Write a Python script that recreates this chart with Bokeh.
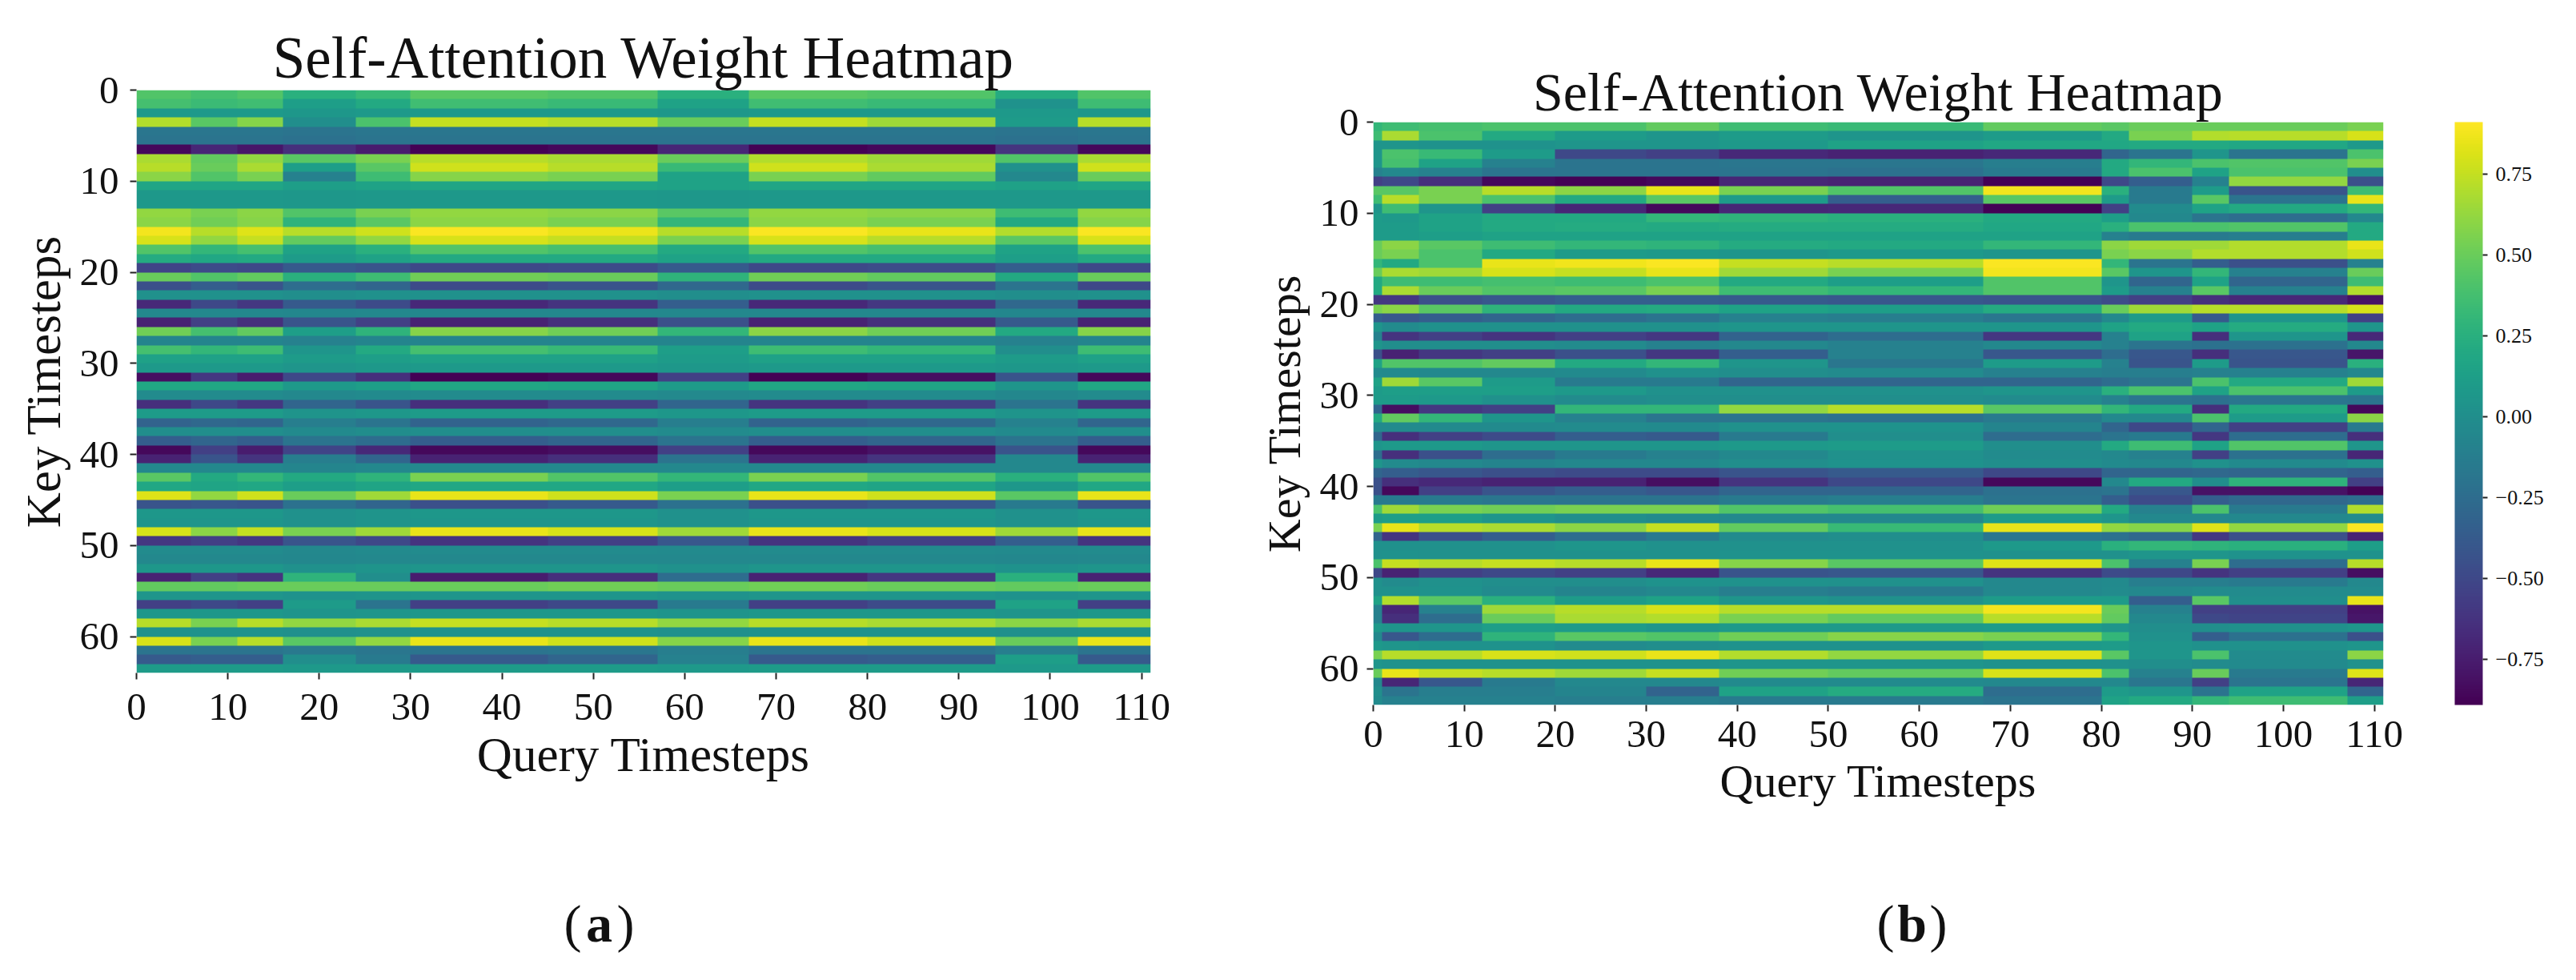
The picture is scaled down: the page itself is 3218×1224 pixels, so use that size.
import numpy as np
from bokeh.core.properties import value
from bokeh.embed import file_html
from bokeh.layouts import column, row
from bokeh.models import ColorBar, FixedTicker, LinearColorMapper, Range1d, Spacer
from bokeh.palettes import Viridis256
from bokeh.plotting import figure
from bokeh.resources import INLINE

TITLE = "Self-Attention Weight Heatmap"
X_LABEL = "Query Timesteps"
Y_LABEL = "Key Timesteps"
X_TICKS = list(range(0, 111, 10))
Y_TICKS = list(range(0, 61, 10))
CB_TICKS = [-0.75, -0.5, -0.25, 0.0, 0.25, 0.5, 0.75]
SERIF = "Liberation Serif"

# Column edges of the runs of similar colour
edges_a = [0, 6, 11, 16, 24, 30, 45, 57, 67, 80, 94, 103, 111]
rows_a = [
    [.42,.38,.42,.25,.32,.45,.42,.25,.45,.42,.22,.42],
    [.38,.34,.36,.12,.20,.36,.33,.15,.36,.33,.03,.35],
    [.08,.08,.08,.06,.08,.08,.08,.06,.08,.08,.08,.06],
    [.70,.45,.58,.00,.40,.75,.72,.50,.75,.65,.10,.72],
    [-.18,-.18,-.18,-.20,-.18,-.18,-.18,-.18,-.18,-.18,-.20,-.18],
    [-.20,-.20,-.20,-.22,-.20,-.20,-.20,-.20,-.20,-.20,-.22,-.20],
    [-.85,-.70,-.78,-.65,-.75,-.88,-.85,-.70,-.88,-.85,-.62,-.85],
    [.68,.48,.62,.45,.55,.72,.68,.50,.70,.65,.42,.68],
    [.72,.50,.68,.12,.45,.78,.72,.32,.78,.68,.02,.78],
    [.60,.42,.55,-.10,.35,.58,.55,.15,.55,.48,-.05,.50],
    [.17,.17,.17,.12,.15,.17,.17,.15,.17,.17,.14,.17],
    [.07,.07,.07,.06,.07,.07,.07,.06,.07,.07,.07,.07],
    [.07,.07,.07,.06,.07,.07,.07,.06,.07,.07,.07,.07],
    [.62,.55,.60,.42,.55,.62,.60,.45,.62,.60,.35,.62],
    [.60,.52,.58,.28,.45,.60,.55,.30,.60,.55,.20,.58],
    [.88,.72,.82,.72,.78,.90,.86,.72,.90,.85,.70,.90],
    [.80,.62,.75,.48,.62,.80,.75,.55,.80,.72,.45,.80],
    [.42,.30,.38,.15,.25,.42,.38,.20,.42,.38,.15,.40],
    [.22,.18,.20,.10,.15,.20,.20,.15,.20,.20,.12,.20],
    [-.52,-.48,-.50,-.38,-.42,-.50,-.48,-.38,-.50,-.47,-.35,-.50],
    [.50,.42,.48,.25,.35,.52,.50,.28,.52,.48,.20,.50],
    [-.45,-.35,-.42,-.25,-.30,-.48,-.42,-.28,-.48,-.42,-.20,-.50],
    [.02,.02,.02,.00,.02,.02,.02,.00,.02,.02,.00,.02],
    [-.68,-.50,-.60,-.38,-.48,-.68,-.62,-.35,-.68,-.60,-.28,-.68],
    [-.05,-.05,-.05,-.06,-.05,-.05,-.05,-.05,-.05,-.05,-.06,-.05],
    [-.72,-.55,-.65,-.42,-.55,-.72,-.65,-.45,-.72,-.65,-.38,-.72],
    [.52,.38,.48,.12,.28,.58,.52,.30,.60,.52,.20,.58],
    [-.08,-.08,-.08,-.10,-.08,-.08,-.08,-.08,-.08,-.08,-.10,-.08],
    [.38,.30,.35,.05,.20,.38,.32,.12,.35,.30,.00,.35],
    [.14,.14,.14,.10,.12,.14,.14,.10,.14,.14,.10,.14],
    [.08,.08,.08,.05,.07,.08,.08,.06,.08,.08,.06,.08],
    [-.82,-.60,-.75,-.50,-.65,-.88,-.85,-.55,-.88,-.82,-.42,-.85],
    [.18,.18,.18,.08,.12,.18,.17,.10,.18,.17,.05,.18],
    [-.02,-.02,-.02,-.05,-.03,-.02,-.02,-.04,-.02,-.02,-.06,-.02],
    [-.65,-.50,-.60,-.30,-.42,-.65,-.55,-.30,-.62,-.55,-.20,-.62],
    [.10,.10,.10,.04,.06,.10,.10,.06,.10,.10,.04,.10],
    [-.32,-.28,-.30,-.12,-.20,-.32,-.28,-.12,-.32,-.28,-.10,-.30],
    [.00,.00,.00,-.03,-.01,.00,.00,-.02,.00,.00,-.03,.00],
    [-.35,-.30,-.35,-.20,-.25,-.35,-.30,-.20,-.35,-.30,-.20,-.35],
    [-.85,-.55,-.75,-.52,-.68,-.85,-.82,-.55,-.85,-.80,-.42,-.85],
    [-.72,-.42,-.62,-.12,-.30,-.72,-.65,-.20,-.72,-.62,-.05,-.72],
    [-.05,-.05,-.05,-.07,-.05,-.05,-.05,-.05,-.05,-.05,-.05,-.05],
    [.45,.20,.30,.20,.28,.55,.42,.30,.55,.42,.25,.42],
    [.18,.16,.18,.12,.16,.18,.18,.12,.18,.16,.06,.18],
    [.82,.62,.78,.50,.65,.85,.78,.55,.85,.78,.45,.85],
    [-.42,-.40,-.42,-.22,-.30,-.45,-.38,-.22,-.45,-.40,-.15,-.42],
    [.06,.06,.06,.02,.04,.06,.06,.02,.06,.06,.02,.06],
    [.05,.05,.05,.02,.04,.05,.05,.02,.05,.05,.02,.05],
    [.80,.60,.75,.55,.65,.85,.80,.65,.85,.80,.65,.85],
    [-.60,-.55,-.60,-.42,-.50,-.62,-.55,-.40,-.62,-.55,-.35,-.62],
    [-.02,-.02,-.02,-.05,-.03,-.02,-.02,-.03,-.02,-.02,-.03,-.02],
    [-.05,-.05,-.05,-.06,-.05,-.05,-.05,-.05,-.05,-.05,-.06,-.05],
    [.06,.06,.06,.02,.04,.05,.05,.02,.05,.05,.03,.05],
    [-.72,-.55,-.62,.28,.00,-.75,-.65,-.25,-.72,-.60,.25,-.72],
    [.48,.48,.50,.50,.50,.50,.52,.50,.52,.50,.48,.50],
    [.05,.05,.05,.03,.04,.05,.05,.03,.05,.05,.03,.05],
    [-.55,-.50,-.55,.10,-.20,-.55,-.50,-.15,-.55,-.48,.15,-.55],
    [.06,.06,.06,.04,.05,.06,.06,.04,.06,.06,.04,.06],
    [.72,.55,.72,.62,.68,.75,.72,.62,.72,.68,.60,.68],
    [.03,.03,.03,.01,.02,.03,.03,.01,.03,.03,.01,.03],
    [.80,.55,.72,.45,.62,.85,.78,.58,.85,.78,.50,.85],
    [-.20,-.20,-.20,-.16,-.18,-.20,-.18,-.12,-.20,-.20,-.12,-.20],
    [-.38,-.35,-.35,.00,-.15,-.38,-.30,-.10,-.38,-.35,.12,-.38],
    [.10,.10,.10,.08,.09,.10,.10,.08,.10,.10,.08,.10],
]

edges_b = [0, 1, 5, 12, 20, 30, 38, 50, 67, 80, 83, 90, 94, 107, 111]
rows_b = [
    [.30,.35,.38,.40,.40,.48,.35,.32,.48,.45,.50,.50,.50,.55],
    [.35,.68,.40,.20,.10,.05,.10,.05,.10,.20,.55,.70,.72,.80],
    [.05,.05,.03,.03,.05,.05,.08,.15,.18,.18,.20,.20,.18,.08],
    [.05,.40,.32,.10,-.50,-.55,-.68,-.72,-.68,-.30,-.20,.05,-.20,.40],
    [.05,.38,.15,-.10,-.20,-.20,-.18,-.18,-.12,.20,.30,.40,.42,.55],
    [-.10,-.05,-.10,-.20,-.20,-.20,-.20,-.22,-.15,.20,.40,.15,.40,.00],
    [-.55,-.50,-.65,-.85,-.88,-.85,-.70,-.72,-.88,-.50,-.35,-.10,.62,-.45],
    [.45,.45,.55,.72,.60,.85,.55,.42,.88,.25,-.15,.10,-.42,.35],
    [.35,.72,.55,.40,.20,.45,.10,-.35,.45,.10,-.15,.45,-.20,.85],
    [.05,.35,.05,-.55,-.70,-.85,-.70,-.68,-.88,-.55,-.02,.15,.20,.30],
    [.10,.08,.15,.20,.20,.30,.28,.25,.20,.12,-.05,-.20,-.25,-.05],
    [.10,.10,.15,.20,.22,.20,.22,.22,.18,.25,.40,.40,.42,.20],
    [.10,.10,.12,.15,.15,.15,.15,.15,.15,-.10,-.15,-.15,-.12,.20],
    [.50,.60,.45,.35,.30,.28,.22,.20,.30,.60,.65,.65,.70,.85],
    [.50,.55,.40,.20,.10,.08,.05,.08,.05,.55,.60,.70,.70,.78],
    [.30,.20,.40,.85,.87,.90,.75,.72,.90,.30,-.20,-.35,-.45,-.10],
    [.50,.68,.65,.80,.75,.85,.65,.55,.88,.45,.05,.30,-.10,.50],
    [.20,.35,.35,.38,.35,.40,.20,.12,.42,.05,-.30,.15,-.30,.35],
    [.20,.68,.50,.42,.45,.55,.35,.30,.42,.10,-.10,.45,-.10,.70],
    [-.60,-.60,-.45,-.40,-.35,-.35,-.38,-.40,-.42,-.48,-.55,-.65,-.68,-.80],
    [.55,.60,.45,.28,.20,.22,.15,.12,.22,.50,.65,.72,.72,.80],
    [-.35,-.40,-.35,-.30,-.25,-.20,-.10,-.12,-.18,-.05,.10,-.38,.05,-.55],
    [.05,-.02,.02,.02,.02,.02,.05,.05,.05,.15,.20,.15,.22,.05],
    [-.10,-.62,-.55,-.62,-.55,-.60,-.32,-.25,-.60,-.10,.15,-.65,.05,-.68],
    [.05,.00,.00,.00,-.02,-.10,-.05,-.10,-.05,-.10,-.20,-.22,-.22,-.05],
    [-.45,-.72,-.60,-.55,-.45,-.60,-.35,-.10,-.40,-.25,-.40,-.65,-.40,-.78],
    [.15,.42,.42,.48,.20,.30,.05,-.18,.10,-.10,-.42,.10,-.42,.25],
    [-.02,-.03,-.05,-.05,-.03,.02,.00,-.02,-.10,-.12,-.12,-.10,-.10,-.05],
    [.15,.65,.45,.10,-.15,-.15,-.30,-.30,-.30,-.25,-.20,.40,.20,.65],
    [.10,.12,.12,.12,.08,.02,.02,.02,.05,.25,.40,.15,.40,.10],
    [.10,.10,.08,.02,-.02,.00,.00,.00,-.02,-.10,-.20,-.22,-.18,-.20],
    [-.30,-.82,-.60,-.55,.30,.30,.62,.72,.45,.30,.20,-.65,.20,-.85],
    [.20,.48,.30,.05,-.10,-.20,-.20,-.22,-.15,-.05,-.05,.40,.10,.60],
    [-.03,-.03,-.03,-.03,-.02,-.03,.02,.03,-.08,-.30,-.50,-.30,-.55,-.15],
    [-.30,-.65,-.55,-.48,-.35,-.38,-.15,.00,-.25,-.20,-.15,-.60,-.25,-.65],
    [.05,.08,.08,.05,.05,.05,.08,.10,.00,.20,.35,.15,.42,.05],
    [-.25,-.65,-.45,-.25,-.15,-.10,-.05,.02,-.02,-.05,-.10,-.55,-.22,-.70],
    [.05,-.02,-.05,-.08,-.05,-.05,.00,.03,.00,-.03,-.05,.02,-.03,.02],
    [-.30,-.35,-.40,-.45,-.48,-.48,-.42,-.38,-.50,-.30,-.30,-.28,-.30,-.35],
    [-.45,-.65,-.68,-.72,-.72,-.82,-.62,-.50,-.85,-.05,.20,.00,.28,-.55],
    [-.45,-.85,-.55,-.42,-.35,-.40,-.30,-.30,-.22,-.20,-.40,-.80,-.80,-.88],
    [-.15,-.15,-.15,-.18,-.20,-.20,-.15,-.12,-.20,-.35,-.48,-.35,-.28,-.25],
    [.40,.65,.55,.52,.55,.55,.42,.38,.52,.20,-.10,.40,-.15,.70],
    [.10,.12,.12,.05,.00,-.03,-.05,-.05,.10,.05,-.05,-.05,-.05,-.02],
    [.55,.85,.72,.68,.60,.75,.48,.32,.85,.62,.58,.82,.62,.90],
    [-.30,-.62,-.45,-.35,-.25,-.15,-.02,.00,-.18,-.22,-.28,-.60,-.45,-.72],
    [.02,.02,.02,.02,.05,.02,.02,.02,.08,.25,.30,.28,.25,.12],
    [.02,.03,.02,.02,.02,.02,.03,.03,.02,.02,.05,.05,.03,.03],
    [.40,.75,.72,.75,.72,.85,.58,.45,.82,.40,-.10,.55,-.25,.72],
    [-.50,-.72,-.55,-.50,-.55,-.68,-.42,-.40,-.62,-.48,-.50,-.62,-.55,-.82],
    [.02,-.02,.02,.00,.00,.03,.03,.02,-.05,-.03,-.12,-.12,-.15,-.05],
    [.02,.02,.03,-.02,-.08,-.05,-.12,-.15,-.05,-.02,-.05,-.02,-.02,-.02],
    [.15,.70,.45,.25,.10,.15,.05,.02,.10,.10,-.35,.45,.00,.85],
    [-.10,-.70,-.10,.65,.72,.80,.72,.72,.88,.50,-.10,-.55,-.55,-.80],
    [-.10,-.65,-.25,.50,.68,.70,.55,.48,.72,.48,-.05,-.50,-.52,-.78],
    [.08,.05,.05,.12,.10,.05,.08,.08,.10,.05,.00,.00,.02,.05],
    [-.05,-.40,-.25,.28,.45,.42,.52,.58,.55,.30,.02,-.35,-.22,-.45],
    [.08,.05,.03,.03,-.02,.00,.03,.03,.08,.10,.05,.02,.02,.05],
    [.55,.72,.72,.80,.78,.85,.70,.62,.82,.45,.05,.40,-.02,.60],
    [.05,.03,.03,.03,.03,.03,.05,.05,.03,.02,.00,-.02,-.03,.02],
    [.50,.85,.75,.72,.65,.75,.52,.48,.80,.40,-.10,.50,-.15,.82],
    [-.05,-.70,-.40,-.15,-.05,-.05,-.03,-.03,-.05,-.05,-.18,-.55,-.20,-.70],
    [.00,-.20,-.12,-.12,-.08,-.32,.15,.22,-.25,.10,.05,-.20,.15,-.30],
    [-.02,-.10,-.10,-.10,-.12,-.12,-.15,-.15,-.20,.15,.20,.30,.35,.12],
]


def expand(rows, edges):
    return np.repeat(np.array(rows, dtype=float), np.diff(edges), axis=1)


mapper = LinearColorMapper(palette=Viridis256, low=-0.89, high=0.91)


def panel(rows, edges, width, height, frame_w, left, right, top, title_size, axis_size,
          x_standoff, y_standoff, x_label_off, y_label_off):
    p = figure(width=width, height=height, frame_width=frame_w, frame_height=728,
               x_range=Range1d(0, 111), y_range=Range1d(64, 0),
               min_border_left=left, min_border_right=right, min_border_top=top,
               min_border_bottom=height - 728 - top,
               output_backend="svg", toolbar_location=None,
               title=TITLE, outline_line_color=None)
    p.image(image=[expand(rows, edges)], x=0, y=0, dw=111, dh=64, color_mapper=mapper)
    p.grid.visible = False
    p.title.text_font = SERIF
    p.title.text_font_size = f"{title_size}px"
    p.title.text_font_style = "normal"
    p.title.text_color = "#111111"
    p.title.align = "center"
    p.title.standoff = 0
    for ax, ticks, label, std, lab in ((p.xaxis[0], X_TICKS, X_LABEL, x_standoff, x_label_off),
                                       (p.yaxis[0], Y_TICKS, Y_LABEL, y_standoff, y_label_off)):
        ax.ticker = FixedTicker(ticks=ticks)
        ax.axis_label = label
        ax.axis_label_text_font = SERIF
        ax.axis_label_text_font_size = f"{axis_size}px"
        ax.axis_label_text_font_style = "normal"
        ax.axis_label_text_color = "#111111"
        ax.major_label_text_font = SERIF
        ax.major_label_text_font_size = "49px"
        ax.major_label_text_color = "#111111"
        ax.axis_line_color = None
        ax.major_tick_in = 0
        ax.major_tick_out = 8
        ax.major_tick_line_width = 2
        ax.major_tick_line_color = "#222222"
        ax.minor_tick_line_color = None
        ax.major_label_standoff = std
        ax.axis_label_standoff = lab
    return p


def caption(width, height, frame_left, frame_right, center, letter):
    # The caption figure's frame lines up with the heatmap frame above it,
    # so its x range is given in page pixels over that same span.
    c = figure(width=width, height=height, frame_width=frame_right - frame_left,
               x_range=Range1d(frame_left, frame_right), y_range=Range1d(0, height),
               min_border_left=frame_left if letter == "a" else 207,
               min_border_right=71 if letter == "a" else 231,
               min_border_top=0, min_border_bottom=0,
               output_backend="svg", toolbar_location=None, outline_line_color=None)
    c.axis.visible = False
    c.grid.visible = False
    for text, dx, style in (("(", -33, "normal"), (letter, 0, "bold"), (")", 33, "normal")):
        c.text(x=[center + dx], y=[height / 2 + 5], text=[text], text_align="center",
               text_baseline="middle", text_font=value(SERIF), text_font_size="66px",
               text_font_style=style, text_color="#111111")
    return c


pa = panel(rows_a, edges_a, 1508, 1110, 1267, 170, 71, 112, 73, 61, 18, 14, 7, 9)
cap_a = caption(1508, 96, 170, 1437, 748, "a")

pb = panel(rows_b, edges_b, 1700, 1070, 1262, 207, 231, 112, 68, 58, 12, 10, 7, 9)
cap_b = caption(1700, 96, 1715, 2977, 2388, "b")

bar = ColorBar(color_mapper=mapper, width=35, height=728, padding=0, margin=0,
               location=(89, 0), ticker=FixedTicker(ticks=CB_TICKS),
               major_label_overrides={t: f"{t:.2f}".replace("-", "\u2212") for t in CB_TICKS},
               major_label_text_font=SERIF, major_label_text_font_size="26px",
               major_label_text_color="#111111", major_tick_in=0, major_tick_out=6,
               major_tick_line_color="#222222", major_tick_line_width=2,
               label_standoff=10, bar_line_color=None, minor_tick_line_color=None)
pb.add_layout(bar, "right")

layout = row(column(pa, cap_a, spacing=0),
             column(Spacer(height=40), pb, cap_b, spacing=0),
             spacing=0)
open("out.html", "w").write(file_html(layout, INLINE))
